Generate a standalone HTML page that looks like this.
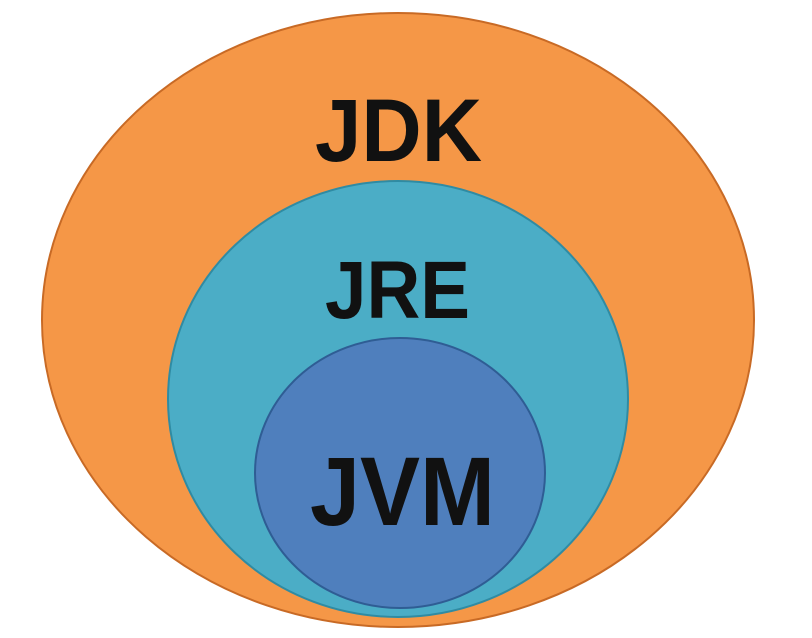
<!DOCTYPE html>
<html><head><style>html,body{margin:0;padding:0;background:#fff;}svg{display:block}</style></head>
<body>
<svg width="812" height="638" viewBox="0 0 812 638" xmlns="http://www.w3.org/2000/svg">
<ellipse cx="398" cy="320" rx="356" ry="307" fill="#F59747" stroke="#C86A25" stroke-width="2"/>
<ellipse cx="398" cy="399" rx="230" ry="218" fill="#4BADC6" stroke="#2F8BA3" stroke-width="2"/>
<ellipse cx="400" cy="473" rx="145" ry="135" fill="#4F7FBD" stroke="#2F5D94" stroke-width="2"/>
<g font-family="Liberation Sans, sans-serif" font-weight="bold" fill="#111">
<text x="315" y="161" font-size="89" textLength="167" lengthAdjust="spacingAndGlyphs">JDK</text>
<text x="325" y="318" font-size="82" textLength="145" lengthAdjust="spacingAndGlyphs">JRE</text>
<text x="310" y="525" font-size="97" textLength="185" lengthAdjust="spacingAndGlyphs">JVM</text>
</g>
</svg>
</body></html>
